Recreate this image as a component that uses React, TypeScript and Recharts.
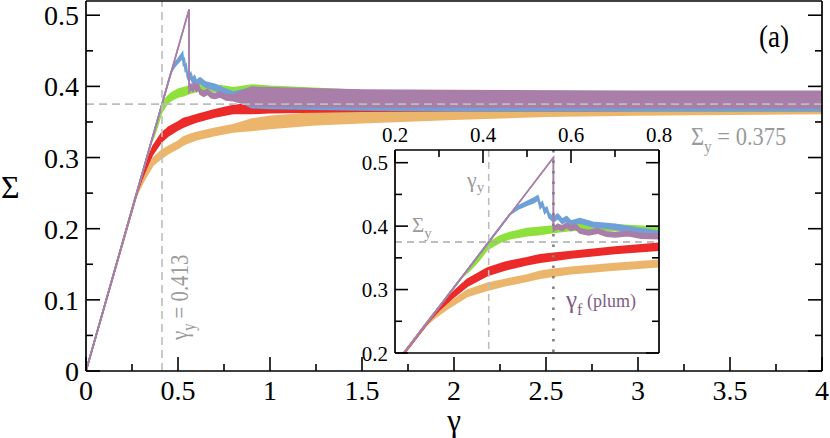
import React from 'react';
import { ComposedChart, Area, XAxis, YAxis, ReferenceLine } from 'recharts';

// [gamma, lower edge, upper edge] of each noisy stress band
type Pt = [number, number, number];

const ORANGE: Pt[] = [
  [0, 0, 0], [0.27, 0.243, 0.246], [0.29, 0.255, 0.26], [0.32, 0.27, 0.278], [0.364, 0.289, 0.299],
  [0.41, 0.299, 0.31], [0.45, 0.306, 0.316], [0.5, 0.313, 0.323], [0.53, 0.318, 0.329], [0.56, 0.321, 0.332],
  [0.6, 0.325, 0.335], [0.7, 0.331, 0.341], [0.8, 0.336, 0.346], [0.9, 0.338, 0.354], [1.0, 0.341, 0.358],
  [1.25, 0.346, 0.363], [1.5, 0.349, 0.366], [2.0, 0.354, 0.371], [2.5, 0.358, 0.375], [3.0, 0.36, 0.377],
  [3.5, 0.361, 0.378], [4.0, 0.362, 0.379],
];

const RED: Pt[] = [
  [0, 0, 0], [0.28, 0.252, 0.255], [0.3, 0.267, 0.273], [0.33, 0.286, 0.295], [0.364, 0.305, 0.316],
  [0.41, 0.322, 0.334], [0.45, 0.331, 0.343], [0.5, 0.339, 0.35], [0.53, 0.343, 0.355], [0.56, 0.346, 0.357],
  [0.6, 0.35, 0.36], [0.7, 0.357, 0.367], [0.8, 0.362, 0.373], [0.9, 0.362, 0.376], [1.0, 0.363, 0.378],
  [1.5, 0.365, 0.383], [2.0, 0.366, 0.386], [3.0, 0.366, 0.387], [4.0, 0.366, 0.387],
];

const GREEN: Pt[] = [
  [0, 0, 0], [0.35, 0.318, 0.318], [0.37, 0.33, 0.334], [0.39, 0.345, 0.352], [0.41, 0.363, 0.373],
  [0.44, 0.375, 0.385], [0.461, 0.38, 0.39], [0.5, 0.385, 0.396], [0.53, 0.387, 0.398], [0.56, 0.39, 0.4],
  [0.6, 0.393, 0.402], [0.64, 0.394, 0.403], [0.7, 0.393, 0.402], [0.75, 0.391, 0.4], [0.8, 0.389, 0.398],
  [0.9, 0.378, 0.402], [1.0, 0.376, 0.4], [1.5, 0.371, 0.394], [2.0, 0.368, 0.392], [3.0, 0.366, 0.391],
  [4.0, 0.366, 0.39],
];

const BLUE: Pt[] = [
  [0, 0, 0], [0.46, 0.418, 0.418], [0.48, 0.427, 0.432], [0.5, 0.433, 0.439], [0.515, 0.437, 0.444],
  [0.525, 0.441, 0.448], [0.53, 0.428, 0.435], [0.535, 0.432, 0.438], [0.54, 0.42, 0.427], [0.545, 0.424, 0.43],
  [0.55, 0.413, 0.42], [0.56, 0.407, 0.414], [0.57, 0.412, 0.419], [0.58, 0.404, 0.411], [0.59, 0.408, 0.415],
  [0.6, 0.401, 0.408], [0.62, 0.405, 0.412], [0.65, 0.399, 0.406], [0.7, 0.395, 0.403], [0.75, 0.389, 0.397],
  [0.8, 0.384, 0.392], [0.9, 0.37, 0.398], [1.0, 0.369, 0.396], [1.5, 0.367, 0.392], [2.0, 0.366, 0.391],
  [3.0, 0.366, 0.391], [4.0, 0.366, 0.391],
];

const PLUM: Pt[] = [
  [0, 0, 0], [0.56, 0.508, 0.508], [0.56, 0.392, 0.398], [0.57, 0.396, 0.403], [0.58, 0.393, 0.4],
  [0.59, 0.398, 0.405], [0.6, 0.393, 0.4], [0.61, 0.396, 0.403], [0.62, 0.389, 0.396], [0.64, 0.386, 0.393],
  [0.66, 0.389, 0.396], [0.68, 0.384, 0.391], [0.7, 0.383, 0.39], [0.73, 0.385, 0.392], [0.76, 0.381, 0.388],
  [0.8, 0.38, 0.388], [0.9, 0.373, 0.399], [1.0, 0.372, 0.398], [1.5, 0.371, 0.395], [2.0, 0.371, 0.394],
  [3.0, 0.37, 0.393], [4.0, 0.37, 0.393],
];

const SIGMA_Y = 0.375;
const GAMMA_Y = 0.413;
const GAMMA_F = 0.56;

const MAIN_X_TICKS = [0, 0.25, 0.5, 0.75, 1, 1.25, 1.5, 1.75, 2, 2.25, 2.5, 2.75, 3, 3.25, 3.5, 3.75, 4];
const MAIN_Y_TICKS = [0, 0.05, 0.1, 0.15, 0.2, 0.25, 0.3, 0.35, 0.4, 0.45, 0.5];
const INSET_X_TICKS = [0.2, 0.3, 0.4, 0.5, 0.6, 0.7, 0.8];
const INSET_Y_TICKS = [0.2, 0.25, 0.3, 0.35, 0.4, 0.45, 0.5];

const SERIES = [
  { name: 'orange', pts: ORANGE, color: '#ebb66c' },
  { name: 'red', pts: RED, color: '#ec2a2a' },
  { name: 'green', pts: GREEN, color: '#8ee03c' },
  { name: 'blue', pts: BLUE, color: '#6fa0d8' },
  { name: 'plum', pts: PLUM, color: '#a97ea9' },
];

const FONT = "'Liberation Serif', 'DejaVu Serif', 'Times New Roman', serif";
const GREY_TEXT = '#9a9a9a';
const DASH = '#bdbdbd';

const toRows = (pts: Pt[]) => pts.map(([g, lo, hi]) => ({ g, band: [lo, hi] }));

type Side = 'left' | 'right' | 'top' | 'bottom';

function makeTick(side: Side, step: number, major: number, minor: number, labels: boolean, fontSize: number) {
  return (props: any) => {
    const { x, y, payload } = props;
    const v = payload.value as number;
    const isMajor = Math.abs(v / step - Math.round(v / step)) < 1e-6;
    const len = isMajor ? major : minor;
    let x2 = x;
    let y2 = y;
    if (side === 'left') x2 = x + len;
    else if (side === 'right') x2 = x - len;
    else if (side === 'top') y2 = y + len;
    else y2 = y - len;
    let label = null;
    if (labels && isMajor) {
      const txt = String(Math.round(v * 100) / 100);
      if (side === 'left') {
        label = (
          <text x={x - 7} y={y + fontSize * 0.36} textAnchor="end" fontSize={fontSize} fontFamily={FONT} fill="#000">
            {txt}
          </text>
        );
      } else if (side === 'bottom') {
        label = (
          <text x={x} y={y + fontSize * 1.04} textAnchor="middle" fontSize={fontSize} fontFamily={FONT} fill="#000">
            {txt}
          </text>
        );
      } else if (side === 'top') {
        label = (
          <text x={x} y={y - 8} textAnchor="middle" fontSize={fontSize} fontFamily={FONT} fill="#000">
            {txt}
          </text>
        );
      }
    }
    return (
      <g>
        <line x1={x} y1={y} x2={x2} y2={y2} stroke="#000" strokeWidth={1.6} />
        {label}
      </g>
    );
  };
}

const axisLine = { stroke: '#000', strokeWidth: 1.7 };

export default function App() {
  return (
    <div style={{ position: 'absolute', left: 0, top: 0, width: 830, height: 438, background: '#fff' }}>
      <div style={{ position: 'absolute', left: 0, top: 0 }}>
        <ComposedChart width={830} height={438} margin={{ top: 0, right: 7, bottom: 66, left: 85 }}>
          <XAxis
            xAxisId="b"
            dataKey="g"
            type="number"
            domain={[0, 4]}
            allowDataOverflow
            ticks={MAIN_X_TICKS}
            interval={0}
            height={1}
            tickSize={0}
            tickMargin={0}
            tickLine={false}
            axisLine={axisLine}
            tick={makeTick('bottom', 0.5, 14, 7, true, 28)}
          />
          <XAxis
            xAxisId="t"
            orientation="top"
            type="number"
            domain={[0, 4]}
            allowDataOverflow
            ticks={MAIN_X_TICKS}
            interval={0}
            height={1}
            tickSize={0}
            tickMargin={0}
            tickLine={false}
            axisLine={axisLine}
            tick={makeTick('top', 0.5, 14, 7, false, 28)}
          />
          <YAxis
            yAxisId="l"
            type="number"
            domain={[0, 0.52]}
            allowDataOverflow
            ticks={MAIN_Y_TICKS}
            interval={0}
            width={1}
            tickSize={0}
            tickMargin={0}
            tickLine={false}
            axisLine={axisLine}
            tick={makeTick('left', 0.1, 14, 7, true, 28)}
          />
          <YAxis
            yAxisId="r"
            orientation="right"
            type="number"
            domain={[0, 0.52]}
            allowDataOverflow
            ticks={MAIN_Y_TICKS}
            interval={0}
            width={1}
            tickSize={0}
            tickMargin={0}
            tickLine={false}
            axisLine={axisLine}
            tick={makeTick('right', 0.1, 14, 7, false, 28)}
          />
          {SERIES.map((s) => (
            <Area
              key={s.name}
              xAxisId="b"
              yAxisId="l"
              data={toRows(s.pts)}
              dataKey="band"
              type="linear"
              stroke={s.color}
              strokeWidth={1.6}
              fill={s.color}
              fillOpacity={1}
              dot={false}
              activeDot={false}
              isAnimationActive={false}
            />
          ))}
          <ReferenceLine xAxisId="b" yAxisId="l" y={SIGMA_Y} stroke={DASH} strokeWidth={1.6} strokeDasharray="8 5" />
          <ReferenceLine xAxisId="b" yAxisId="l" x={GAMMA_Y} stroke={DASH} strokeWidth={1.6} strokeDasharray="8 5" />
        </ComposedChart>
      </div>

      {/* inset */}
      <div style={{ position: 'absolute', left: 395, top: 150, width: 264, height: 203, background: '#fff' }} />
      <div style={{ position: 'absolute', left: 340, top: 110 }}>
        <ComposedChart width={345} height={260} margin={{ top: 39, right: 25, bottom: 16, left: 54 }}>
          <XAxis
            xAxisId="t"
            orientation="top"
            dataKey="g"
            type="number"
            domain={[0.2, 0.8]}
            allowDataOverflow
            ticks={INSET_X_TICKS}
            interval={0}
            height={1}
            tickSize={0}
            tickMargin={0}
            tickLine={false}
            axisLine={axisLine}
            tick={makeTick('top', 0.2, 13, 7, true, 21)}
          />
          <XAxis
            xAxisId="b"
            type="number"
            domain={[0.2, 0.8]}
            allowDataOverflow
            ticks={INSET_X_TICKS}
            interval={0}
            height={1}
            tickSize={0}
            tickMargin={0}
            tickLine={false}
            axisLine={axisLine}
            tick={makeTick('bottom', 0.2, 13, 7, false, 21)}
          />
          <YAxis
            yAxisId="l"
            type="number"
            domain={[0.2, 0.52]}
            allowDataOverflow
            ticks={INSET_Y_TICKS}
            interval={0}
            width={1}
            tickSize={0}
            tickMargin={0}
            tickLine={false}
            axisLine={axisLine}
            tick={makeTick('left', 0.1, 13, 7, true, 21)}
          />
          <YAxis
            yAxisId="r"
            orientation="right"
            type="number"
            domain={[0.2, 0.52]}
            allowDataOverflow
            ticks={INSET_Y_TICKS}
            interval={0}
            width={1}
            tickSize={0}
            tickMargin={0}
            tickLine={false}
            axisLine={axisLine}
            tick={makeTick('right', 0.1, 13, 7, false, 21)}
          />
          {SERIES.map((s) => (
            <Area
              key={s.name}
              xAxisId="t"
              yAxisId="l"
              data={toRows(s.pts)}
              dataKey="band"
              type="linear"
              stroke={s.color}
              strokeWidth={1.6}
              fill={s.color}
              fillOpacity={1}
              dot={false}
              activeDot={false}
              isAnimationActive={false}
            />
          ))}
          <ReferenceLine xAxisId="t" yAxisId="l" y={SIGMA_Y} stroke="#aaaaaa" strokeWidth={1.6} strokeDasharray="7 5" />
          <ReferenceLine xAxisId="t" yAxisId="l" x={GAMMA_Y} stroke={DASH} strokeWidth={1.6} strokeDasharray="7 5" />
          <ReferenceLine xAxisId="t" yAxisId="l" x={GAMMA_F} stroke="#808080" strokeWidth={2.6} strokeDasharray="2.5 8" />
        </ComposedChart>
      </div>

      {/* annotations */}
      <svg width={830} height={438} style={{ position: 'absolute', left: 0, top: 0, pointerEvents: 'none' }} fontFamily={FONT}>
        <text x={1} y={198} fontSize={32} fill="#000">Σ</text>
        <text x={454} y={431} fontSize={31} textAnchor="middle" fill="#000">γ</text>
        <text transform="translate(759,47) scale(0.85,1)" fontSize={32} fill="#000">(a)</text>
        <text transform="translate(691,145) scale(0.9,1)" fontSize={25} fill={GREY_TEXT}>
          Σ<tspan fontSize={17} dy={7}>y</tspan><tspan dy={-7}> = 0.375</tspan>
        </text>
        <text transform="translate(188,340) rotate(-90) scale(0.8,1)" fontSize={26} fill={GREY_TEXT}>
          γ<tspan fontSize={18} dy={7}>y</tspan><tspan dy={-7}> = 0.413</tspan>
        </text>
        <text x={467} y={187} fontSize={22} fill={GREY_TEXT}>
          γ<tspan fontSize={15} dy={5}>y</tspan>
        </text>
        <text x={412} y={232} fontSize={21} fill={GREY_TEXT}>
          Σ<tspan fontSize={15} dy={6}>y</tspan>
        </text>
        <text x={566} y={308} fontSize={25} fill="#7f5b88">
          γ<tspan fontSize={16} dy={7}>f</tspan><tspan fontSize={22 - 4} dy={-8}> (plum)</tspan>
        </text>
      </svg>
    </div>
  );
}
